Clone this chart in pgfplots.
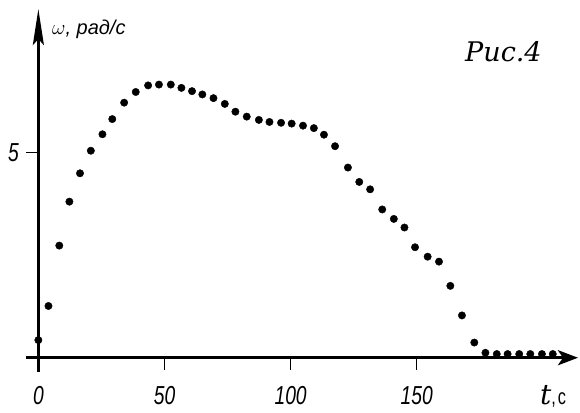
\documentclass[border=0pt]{standalone}
\usepackage{fontspec}
\usepackage{pgfplots}
\pgfplotsset{compat=1.18}
\usetikzlibrary{arrows.meta}
\newfontfamily\lblfont{Liberation Sans}[FakeStretch=0.74]
\newfontfamily\sfit{Liberation Sans}
\newfontfamily\serfont{DejaVu Serif}
\begin{document}
\begin{tikzpicture}[x=1pt,y=1pt]
\useasboundingbox (0,0) rectangle (580,412);
\begin{axis}[
 at={(26pt,40.3pt)}, anchor=south west,
 scale only axis, width=552pt, height=362.7pt,
 xmin=-4.9, xmax=213.9, ymin=-0.34, ymax=8.49,
 axis lines=middle,
 axis line style={line width=3pt},
 x axis line style={-{Stealth[length=20pt,width=15pt,inset=5pt]}},
 y axis line style={-{Stealth[length=36pt,width=11pt,inset=6pt]}},
 xtick={0,50,100,150}, ytick={5},
 hide obscured x ticks=false,
 hide obscured y ticks=false,
 tick align=outside,
 major tick length=12pt,
 tick style={line width=1.3pt,black},
 /pgf/number format/assume math mode=true,
 ticklabel style={font=\lblfont\itshape\fontsize{26}{26}\selectfont},
 xticklabel style={anchor=center, yshift=-26pt},
 yticklabel style={anchor=center, xshift=-13pt},
 clip=false,
]
\addplot[only marks, mark=*, mark size=3.7pt, black] coordinates {
(0,0.43) (4.0,1.26) (8.3,2.73) (12.3,3.80) (16.5,4.49) (20.8,5.04)
(25.4,5.44) (29.3,5.81) (34.0,6.21) (38.6,6.47) (43.5,6.63) (47.8,6.65)
(52.5,6.65) (56.7,6.57) (60.9,6.49) (65.0,6.41) (69.4,6.32) (73.9,6.18)
(78.1,5.99) (82.6,5.87) (87.4,5.79) (91.6,5.74) (96.2,5.72) (100.4,5.70)
(104.9,5.65) (109.2,5.59) (113.2,5.43) (117.6,5.15) (122.7,4.63) (127.2,4.28)
(131.5,4.10) (136.3,3.61) (140.9,3.38) (145.1,3.17) (149.3,2.69) (154.3,2.46)
(158.8,2.34) (163.3,1.75) (167.9,1.03) (172.8,0.37) (177.2,0.12) (181.7,0.09)
(186.0,0.09) (190.6,0.09) (195.0,0.09) (199.6,0.09) (203.9,0.09)
};
\end{axis}
\node[anchor=base west, inner sep=0] at (52,377.7) {\sfit\itshape\fontsize{20}{20}\selectfont $\omega$, рад/с};
\node[anchor=base west, inner sep=0] at (465,350.3) {\serfont\itshape\fontsize{27}{27}\selectfont Рис.4};
\node[anchor=base west, inner sep=0] at (540,8) {\serfont\itshape\fontsize{28}{28}\selectfont t\lblfont\upshape\fontsize{22}{22}\selectfont ,\kern2pt c};
\end{tikzpicture}
\end{document}
